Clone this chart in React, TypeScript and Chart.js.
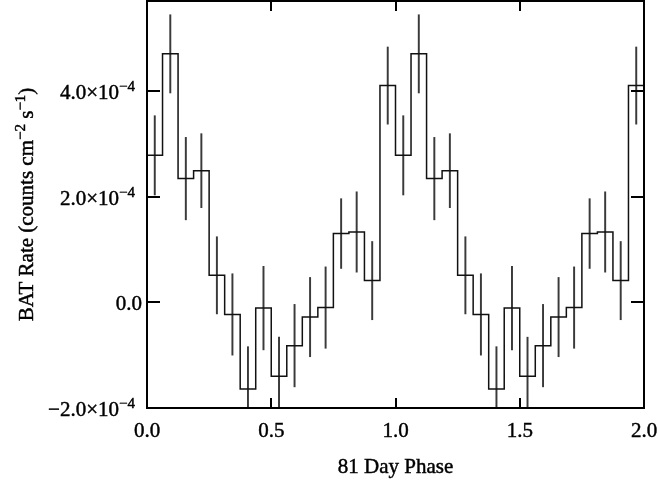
import { useEffect, useRef } from "react";
import { Chart, registerables } from "chart.js";

Chart.register(...registerables);

// Folded BAT light curve: 16 phase bins per cycle, shown for two cycles.
const BINS_PER_CYCLE = 16;
const CYCLES = 2;
const binRate = [
  2.78e-4, 4.7e-4, 2.34e-4, 2.49e-4, 0.51e-4, -0.23e-4, -1.64e-4, -0.11e-4,
  -1.4e-4, -0.82e-4, -0.28e-4, -0.1e-4, 1.3e-4, 1.33e-4, 0.41e-4, 4.1e-4,
];
const binError = [
  0.75e-4, 0.74e-4, 0.78e-4, 0.7e-4, 0.73e-4, 0.77e-4, 0.8e-4, 0.79e-4,
  0.74e-4, 0.78e-4, 0.75e-4, 0.77e-4, 0.66e-4, 0.76e-4, 0.74e-4, 0.73e-4,
];
const xTicks = [0, 0.5, 1.0, 1.5, 2.0];
const yTicks = [-2e-4, 0, 2e-4, 4e-4];
const Y_MIN = -2e-4;
const Y_MAX = 5.7e-4;

const FONT = '"Liberation Serif", "Times New Roman", serif';
const MAIN_PX = 21;
const SUP_PX = 15;

type Piece = { text: string; sup?: boolean };

function yLabel(v: number): Piece[] {
  if (Math.abs(v) < 1e-12) return [{ text: "0.0" }];
  const exp = Math.floor(Math.log10(Math.abs(v)) + 1e-9);
  const mant = v / Math.pow(10, exp);
  const m = (mant < 0 ? "\u2212" : "") + Math.abs(mant).toFixed(1);
  return [
    { text: m + "\u00d710" },
    { text: (exp < 0 ? "\u2212" : "") + Math.abs(exp), sup: true },
  ];
}

function piecesWidth(ctx: CanvasRenderingContext2D, pieces: Piece[]) {
  let w = 0;
  for (const p of pieces) {
    ctx.font = `${p.sup ? SUP_PX : MAIN_PX}px ${FONT}`;
    w += ctx.measureText(p.text).width;
  }
  return w;
}

// Text is filled and lightly stroked for a slightly heavier face.
function ink(ctx: CanvasRenderingContext2D, s: string, x: number, y: number) {
  ctx.fillText(s, x, y);
  ctx.strokeText(s, x, y);
}

function drawPieces(ctx: CanvasRenderingContext2D, pieces: Piece[], x: number, y: number) {
  let cx = x;
  for (const p of pieces) {
    ctx.font = `${p.sup ? SUP_PX : MAIN_PX}px ${FONT}`;
    ink(ctx, p.text, cx, p.sup ? y - 8 : y);
    cx += ctx.measureText(p.text).width;
  }
}

const yTitle: Piece[] = [
  { text: "BAT Rate (counts cm" },
  { text: "\u22122", sup: true },
  { text: " s" },
  { text: "\u22121", sup: true },
  { text: ")" },
];
const xTitle = "81 Day Phase";

const framePlugin = {
  id: "frame",
  afterDatasetsDraw(chart: any) {
    const { ctx, chartArea: a, scales } = chart;
    const xs = scales.x;
    const ys = scales.y;
    ctx.save();
    ctx.strokeStyle = "#000";
    ctx.lineWidth = 2;
    ctx.strokeRect(a.left, a.top, a.right - a.left, a.bottom - a.top);

    ctx.beginPath();
    for (const t of xs.ticks) {
      const px = Math.round(xs.getPixelForValue(t.value));
      ctx.moveTo(px, a.bottom);
      ctx.lineTo(px, a.bottom - 10);
      ctx.moveTo(px, a.top);
      ctx.lineTo(px, a.top + 10);
    }
    for (const t of ys.ticks) {
      const py = Math.round(ys.getPixelForValue(t.value));
      ctx.moveTo(a.left, py);
      ctx.lineTo(a.left + 13, py);
      ctx.moveTo(a.right, py);
      ctx.lineTo(a.right - 13, py);
    }
    ctx.stroke();

    ctx.fillStyle = "#000";
    ctx.lineWidth = 0.45;
    ctx.textBaseline = "alphabetic";
    ctx.textAlign = "left";

    // x tick labels
    ctx.font = `${MAIN_PX}px ${FONT}`;
    for (const t of xs.ticks) {
      const px = xs.getPixelForValue(t.value);
      const s = t.value.toFixed(1);
      const w = ctx.measureText(s).width;
      ink(ctx, s, px - w / 2, a.bottom + 29);
    }

    // y tick labels
    for (const t of ys.ticks) {
      const py = ys.getPixelForValue(t.value);
      const pieces = yLabel(t.value);
      const w = piecesWidth(ctx, pieces);
      const right = pieces.length > 1 ? a.left - 12 : a.left - 5;
      drawPieces(ctx, pieces, right - w, py + 8);
    }

    // x title
    ctx.font = `${MAIN_PX}px ${FONT}`;
    const xw = ctx.measureText(xTitle).width;
    ink(ctx, xTitle, (a.left + a.right) / 2 - xw / 2, a.bottom + 65);

    // y title, rotated
    ctx.save();
    ctx.translate(33, (a.top + a.bottom) / 2);
    ctx.rotate(-Math.PI / 2);
    const tw = piecesWidth(ctx, yTitle);
    drawPieces(ctx, yTitle, -tw / 2, 0);
    ctx.restore();

    ctx.restore();
  },
};

export default function App() {
  const ref = useRef<HTMLCanvasElement>(null);

  useEffect(() => {
    const canvas = ref.current;
    if (!canvas) return;

    const total = BINS_PER_CYCLE * CYCLES;
    const steps: { x: number; y: number }[] = [];
    const bars: { x: number; y: [number, number] }[] = [];
    for (let k = 0; k < total; k++) {
      const i = k % BINS_PER_CYCLE;
      steps.push({ x: k / BINS_PER_CYCLE, y: binRate[i] });
      bars.push({
        x: (k + 0.5) / BINS_PER_CYCLE,
        y: [binRate[i] - binError[i], binRate[i] + binError[i]],
      });
    }
    steps.push({ x: CYCLES, y: binRate[BINS_PER_CYCLE - 1] });

    const chart = new Chart(canvas, {
      type: "line",
      data: {
        datasets: [
          {
            type: "line",
            data: steps,
            stepped: "before",
            borderColor: "#111",
            borderWidth: 1.5,
            pointRadius: 0,
            fill: false,
            clip: 0,
          } as any,
          {
            type: "bar",
            data: bars as any,
            backgroundColor: "#3a3a3a",
            borderWidth: 0,
            barThickness: 1.3,
            clip: 0,
          } as any,
        ],
      },
      options: {
        responsive: false,
        animation: false,
        devicePixelRatio: 1,
        layout: { padding: { left: 147, right: 14, top: 1, bottom: 76 } },
        plugins: {
          legend: { display: false },
          tooltip: { enabled: false },
        },
        scales: {
          x: {
            type: "linear",
            min: 0,
            max: 2,
            offset: false,
            afterBuildTicks: (s: any) => {
              s.ticks = xTicks.map((value) => ({ value }));
            },
            ticks: { display: false },
            grid: { display: false, drawTicks: false },
            border: { display: false },
          },
          y: {
            type: "linear",
            min: Y_MIN,
            max: Y_MAX,
            afterBuildTicks: (s: any) => {
              s.ticks = yTicks.map((value) => ({ value }));
            },
            ticks: { display: false },
            grid: { display: false, drawTicks: false },
            border: { display: false },
          },
        },
      },
      plugins: [framePlugin],
    });

    return () => chart.destroy();
  }, []);

  return (
    <div style={{ position: "absolute", left: 0, top: 0, width: 658, height: 484, background: "#fff" }}>
      <canvas ref={ref} width={658} height={484} style={{ display: "block" }} />
    </div>
  );
}
